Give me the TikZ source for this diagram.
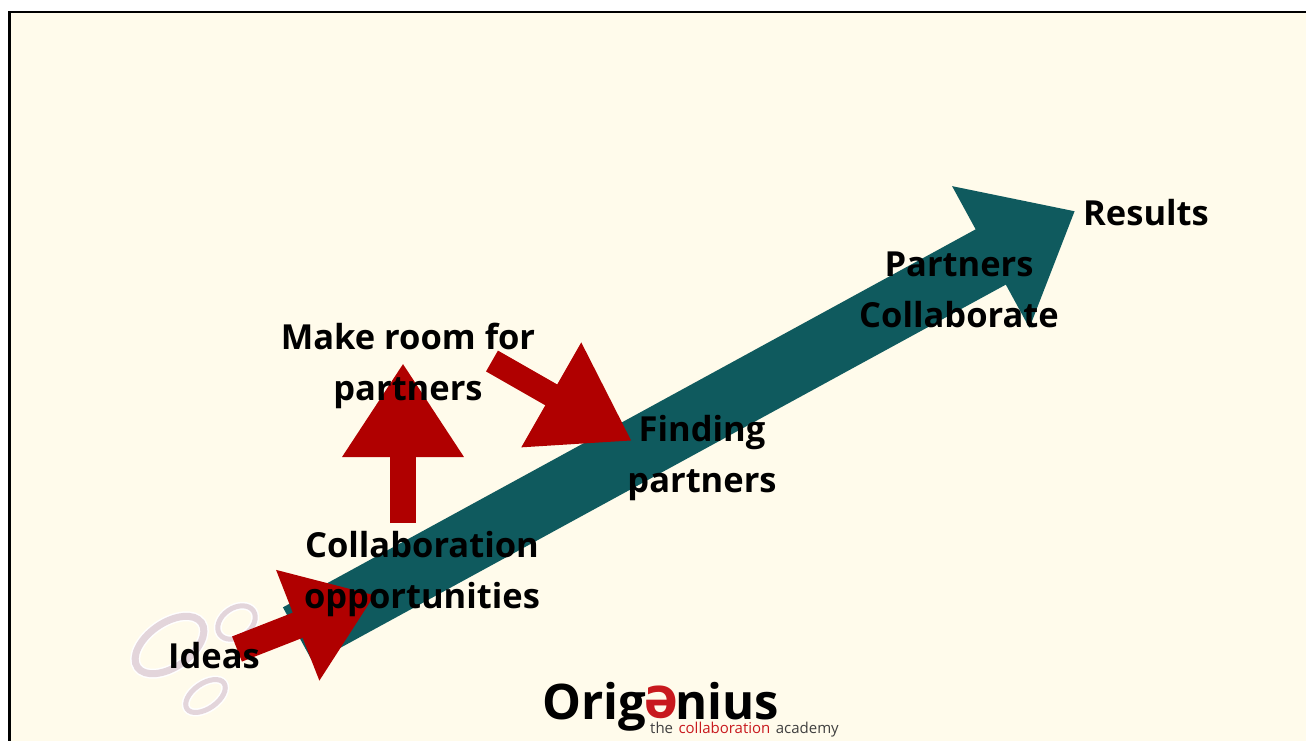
\documentclass[tikz,border=0pt]{standalone}
\usepackage{fontspec}
\setmainfont{Open Sans}
\usepackage{xcolor}
\usetikzlibrary{arrows.meta,shapes.geometric,positioning}
\definecolor{paper}{HTML}{FFFBEB}
\definecolor{teal}{HTML}{0F5A5E}
\definecolor{redarrow}{HTML}{B00000}
\definecolor{logored}{HTML}{C8191E}
\definecolor{ringc}{HTML}{E3D5DB}
\begin{document}
\begin{tikzpicture}[x=1pt,y=-1pt,
lab/.style={align=center,inner sep=0mm,font=\bfseries\fontsize{34.5}{51}\selectfont,text=black},
ring/.style={ellipse,draw=ringc,line width=#1,inner sep=0mm,rotate=35,
  preaction={draw=white,line width=#1+3pt}},
bigarrow/.style={draw=teal,line width=63pt,-{Triangle[length=96pt,width=155pt,fill=teal]}},
redone/.style={draw=redarrow,line width=#1,-{Triangle[length=94pt,width=115pt,fill=redarrow]}},
logo/.style={inner sep=0mm,font=\bfseries\fontsize{49}{49}\selectfont,anchor=base west},
small/.style={inner sep=0mm,font=\fontsize{15}{15}\selectfont,anchor=base west,text=black!75}
]
\useasboundingbox (0,0) rectangle (1306,740);
\fill[white] (0,0) rectangle (1306,740);
\draw[fill=paper,line width=2.5pt] (9.5,12) rectangle (1330,760);

\node[ring=7pt,minimum width=78pt,minimum height=44pt] (ringa) at (169.5,645) {};
\node[ring=5pt,minimum width=41pt,minimum height=29pt] (ringb) at (236.5,622.5) {};
\node[ring=5pt,minimum width=45pt,minimum height=25pt] (ringc) at (205.5,696) {};

\coordinate (tailmain) at (298,635);
\coordinate (tipmain) at (1075,211);
\coordinate (tailidea) at (237,649);
\coordinate (tipidea) at (375,595);
\coordinate (tailroom) at (403,523);
\coordinate (tiproom) at (403,363);
\coordinate (tailfind) at (492,361);
\coordinate (tipfind) at (632,441);

\draw[bigarrow] (tailmain) -- (tipmain);
\draw[redone=27pt,-{Triangle[length=83pt,width=113pt,fill=redarrow]}] (tailidea) -- (tipidea);
\draw[redone=26pt] (tailroom) -- (tiproom);
\draw[redone=24pt,-{Triangle[length=93pt,width=114pt,fill=redarrow]}] (tailfind) -- (tipfind);

\node[lab] (ideas) at (214,656) {Ideas};
\node[lab] (opportunities) at (422,574) {Collaboration\\opportunities};
\node[lab] (room) at (408,366) {Make room for\\partners};
\node[lab] (finding) at (702,458) {Finding\\partners};
\node[lab] (collaborate) at (959,290) {Partners\\Collaborate};
\node[lab] (results) at (1146,213) {Results};

\coordinate (logostart) at (542,719);
\node[logo] (orig) at (logostart) {Orig};
\node[logo,text=logored,rotate=180,anchor=center,font=\bfseries\fontsize{58}{58}\selectfont] (flipe) at (661,702) {e};
\node[logo] (nius) at (675,719) {nius};
\node[small] (the) at (650,733) {the};
\node[small,text=logored,right=5pt of the.base east,anchor=base west] (collab) {collaboration};
\node[small,right=5pt of collab.base east,anchor=base west] (academy) {academy};
\end{tikzpicture}
\end{document}
